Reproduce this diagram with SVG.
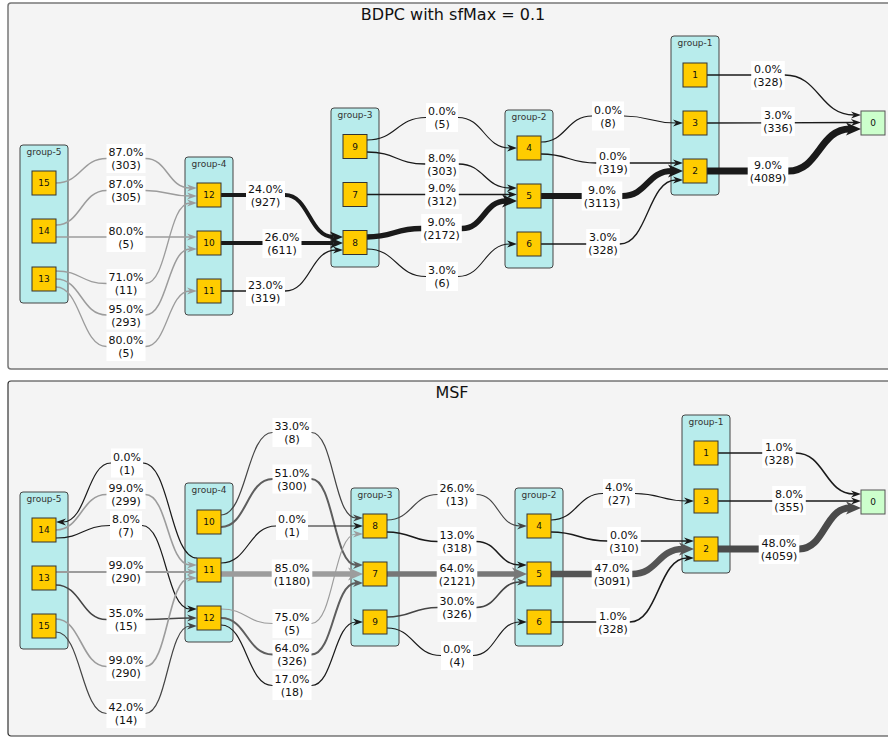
<svg xmlns="http://www.w3.org/2000/svg" width="888" height="737" viewBox="0 0 888 737">
<style>
text{font-family:"DejaVu Sans","Liberation Sans",sans-serif;fill:#111}
.title{font-size:16px;text-anchor:middle}
.gl{font-size:9px;text-anchor:middle;fill:#333}
.nt{font-size:9px;text-anchor:middle}
.cl{fill:#b8ecec;stroke:#444;stroke-width:1}
.nd{fill:#ffcc00;stroke:#333;stroke-width:1}
.n0{fill:#ccffcc;stroke:#555;stroke-width:1}
.e{fill:none}
.k{stroke:#1a1a1a}
.g{stroke:#9c9c9c}
.d{stroke:#444}
.m{stroke:#5e5e5e}
.lb rect{fill:#fff}
.lb text{font-size:11px;text-anchor:middle}
</style>
<defs>
<marker id="ak" markerUnits="userSpaceOnUse" orient="auto" refX="3" refY="0" markerWidth="10" markerHeight="8" overflow="visible"><path d="M0,-3.5 L10,0 L0,3.5 L3,0 z" fill="#1a1a1a"/></marker>
<marker id="ag" markerUnits="userSpaceOnUse" orient="auto" refX="3" refY="0" markerWidth="10" markerHeight="8" overflow="visible"><path d="M0,-3.5 L10,0 L0,3.5 L3,0 z" fill="#9c9c9c"/></marker>
<marker id="ad" markerUnits="userSpaceOnUse" orient="auto" refX="3" refY="0" markerWidth="10" markerHeight="8" overflow="visible"><path d="M0,-3.5 L10,0 L0,3.5 L3,0 z" fill="#444"/></marker>
<marker id="am" markerUnits="userSpaceOnUse" orient="auto" refX="3" refY="0" markerWidth="10" markerHeight="8" overflow="visible"><path d="M0,-4 L10,0 L0,4 L3,0 z" fill="#5e5e5e"/></marker>
<marker id="Nk" markerUnits="userSpaceOnUse" orient="auto" refX="3.5" refY="0" markerWidth="13" markerHeight="11" overflow="visible"><path d="M0,-5.5 L13,0 L0,5.5 L3.5,0 z" fill="#1a1a1a"/></marker>
<marker id="Bk" markerUnits="userSpaceOnUse" orient="auto" refX="4" refY="0" markerWidth="15" markerHeight="13" overflow="visible"><path d="M0,-6.5 L15,0 L0,6.5 L4,0 z" fill="#1a1a1a"/></marker>
<marker id="Bg" markerUnits="userSpaceOnUse" orient="auto" refX="4" refY="0" markerWidth="15" markerHeight="13" overflow="visible"><path d="M0,-6.5 L15,0 L0,6.5 L4,0 z" fill="#9c9c9c"/></marker>
<marker id="B7" markerUnits="userSpaceOnUse" orient="auto" refX="4" refY="0" markerWidth="15" markerHeight="13" overflow="visible"><path d="M0,-6.5 L15,0 L0,6.5 L4,0 z" fill="#777"/></marker>
<marker id="B5" markerUnits="userSpaceOnUse" orient="auto" refX="4" refY="0" markerWidth="15" markerHeight="13" overflow="visible"><path d="M0,-6.5 L15,0 L0,6.5 L4,0 z" fill="#555"/></marker>
<marker id="B4" markerUnits="userSpaceOnUse" orient="auto" refX="4" refY="0" markerWidth="15" markerHeight="13" overflow="visible"><path d="M0,-6.5 L15,0 L0,6.5 L4,0 z" fill="#4a4a4a"/></marker>
</defs>
<rect x="0" y="0" width="888" height="737" fill="#fff"/>

<g id="panel-bdpc">
<rect x="8" y="3" width="900" height="366" rx="3" fill="#f4f4f4" stroke="#777" stroke-width="1.5"/>
<text class="title" x="453" y="20">BDPC with sfMax = 0.1</text>
</g>
<g id="panel-msf">
<rect x="8" y="381" width="900" height="355" rx="3" fill="#f4f4f4" stroke="#333" stroke-width="1.2"/>
<text class="title" x="452" y="398">MSF</text>
</g>

<g id="clusters">
<g id="t-group-5"><rect class="cl" x="20" y="145" width="48" height="158" rx="3"/><text class="gl" x="44" y="155">group-5</text></g>
<g id="t-group-4"><rect class="cl" x="185" y="157" width="48" height="158" rx="3"/><text class="gl" x="209" y="167">group-4</text></g>
<g id="t-group-3"><rect class="cl" x="331" y="108" width="48" height="159" rx="3"/><text class="gl" x="355" y="118">group-3</text></g>
<g id="t-group-2"><rect class="cl" x="505" y="110" width="48" height="158" rx="3"/><text class="gl" x="529" y="120">group-2</text></g>
<g id="t-group-1"><rect class="cl" x="671" y="36" width="48" height="159" rx="3"/><text class="gl" x="695" y="46">group-1</text></g>
<g id="b-group-5"><rect class="cl" x="20" y="492" width="48" height="157" rx="3"/><text class="gl" x="44" y="502">group-5</text></g>
<g id="b-group-4"><rect class="cl" x="185" y="483" width="48" height="159" rx="3"/><text class="gl" x="209" y="493">group-4</text></g>
<g id="b-group-3"><rect class="cl" x="351" y="488" width="48" height="158" rx="3"/><text class="gl" x="375" y="498">group-3</text></g>
<g id="b-group-2"><rect class="cl" x="515" y="488" width="48" height="158" rx="3"/><text class="gl" x="539" y="498">group-2</text></g>
<g id="b-group-1"><rect class="cl" x="682" y="415" width="48" height="158" rx="3"/><text class="gl" x="706" y="425">group-1</text></g>
</g>

<g id="connectors">
<path class="e g" stroke-width="1.5" marker-end="url(#ag)" d="M56,183 C81.25,183 81.25,158.5 106.5,158.5 L145.5,158.5 C167.75,158.5 167.75,188 190,188"/>
<path class="e g" stroke-width="1.5" marker-end="url(#ag)" d="M56,225 C81.25,225 81.25,190.5 106.5,190.5 L145.5,190.5 C167.75,190.5 167.75,196 190,196"/>
<path class="e g" stroke-width="1.3" marker-end="url(#ag)" d="M56,237 L190,237"/>
<path class="e g" stroke-width="1.3" marker-end="url(#ag)" d="M56,271 C81.25,271 81.25,283.5 106.5,283.5 L145.5,283.5 C167.75,283.5 167.75,203 190,203"/>
<path class="e g" stroke-width="1.5" marker-end="url(#ag)" d="M56,279 C81.25,279 81.25,315 106.5,315 L145.5,315 C167.75,315 167.75,249 190,249"/>
<path class="e g" stroke-width="1.3" marker-end="url(#ag)" d="M56,287 C81.25,287 81.25,346.5 106.5,346.5 L145.5,346.5 C167.75,346.5 167.75,291 190,291"/>
<path class="e k" stroke-width="4" marker-end="url(#Nk)" d="M221,195 L285,195 C309.25,195 309.25,237 333.5,237"/>
<path class="e k" stroke-width="4" marker-end="url(#Nk)" d="M221,243 L333.5,243"/>
<path class="e k" stroke-width="1.3" marker-end="url(#ak)" d="M221,291 L285,291 C310.5,291 310.5,250 336,250"/>
<path class="e k" stroke-width="1.1" marker-end="url(#ak)" d="M367,140 C396.5,140 396.5,117.5 426,117.5 L458,117.5 C484,117.5 484,148 510,148"/>
<path class="e k" stroke-width="1.3" marker-end="url(#ak)" d="M367,152 C396.1,152 396.1,164 425.2,164 L458.8,164 C484.4,164 484.4,188 510,188"/>
<path class="e k" stroke-width="1.3" marker-end="url(#ak)" d="M367,194.5 L510,194.5"/>
<path class="e k" stroke-width="5.5" marker-end="url(#Bk)" d="M367,237 C394.1,237 394.1,228.5 421.2,228.5 L461.8,228.5 C483.9,228.5 483.9,201 506,201"/>
<path class="e k" stroke-width="1.1" marker-end="url(#ak)" d="M367,249 C396.5,249 396.5,276.5 426,276.5 L458,276.5 C484,276.5 484,244 510,244"/>
<path class="e k" stroke-width="1.2" marker-end="url(#ak)" d="M541,142 C566.5,142 566.5,116 592,116 L624,116 C650,116 650,123 676,123"/>
<path class="e k" stroke-width="1.3" marker-end="url(#ak)" d="M541,154 C568.6,154 568.6,163 596.2,163 L676,163"/>
<path class="e k" stroke-width="6" marker-end="url(#Bk)" d="M541,196 L622.3,196 C647.2,196 647.2,171 672,171"/>
<path class="e k" stroke-width="1.3" marker-end="url(#ak)" d="M541,244 L619.8,244 C647.9,244 647.9,180 676,180"/>
<path class="e k" stroke-width="1.3" marker-end="url(#ak)" d="M707,75 L784.8,75 C819.4,75 819.4,115 854,115"/>
<path class="e k" stroke-width="1.3" marker-end="url(#ak)" d="M707,123 L854,122.5"/>
<path class="e k" stroke-width="7" marker-end="url(#Bk)" d="M707,171 L788.3,171 C819.2,171 819.2,129 850,129"/>

<path class="e k" stroke-width="1.2" marker-end="url(#ak)" d="M197,558 C170,558 170,463 143,463 L111,463 C87,463 87,522 63,522"/>
<path class="e g" stroke-width="1.6" marker-end="url(#ag)" d="M56,530 C81.25,530 81.25,494.5 106.5,494.5 L145.5,494.5 C167.75,494.5 167.75,565 190,565"/>
<path class="e k" stroke-width="1.2" marker-end="url(#ak)" d="M56,538 C83,538 83,525.5 110,525.5 L142,525.5 C166,525.5 166,609 190,609"/>
<path class="e g" stroke-width="2" marker-end="url(#ag)" d="M56,572 L190,572"/>
<path class="e d" stroke-width="1.5" marker-end="url(#ad)" d="M56,585 C81.25,585 81.25,619.5 106.5,619.5 L145.5,619.5 C167.75,619.5 167.75,618 190,618"/>
<path class="e g" stroke-width="1.6" marker-end="url(#ag)" d="M56,619 C81.25,619 81.25,666.5 106.5,666.5 L145.5,666.5 C167.75,666.5 167.75,578 190,578"/>
<path class="e d" stroke-width="1.2" marker-end="url(#ad)" d="M56,632 C81.25,632 81.25,713.5 106.5,713.5 L145.5,713.5 C167.75,713.5 167.75,626 190,626"/>
<path class="e d" stroke-width="1.2" marker-end="url(#ad)" d="M221,515 C246.75,515 246.75,432.5 272.5,432.5 L311.5,432.5 C333.75,432.5 333.75,518 356,518"/>
<path class="e m" stroke-width="2" marker-end="url(#am)" d="M221,527 C246.75,527 246.75,479 272.5,479 L311.5,479 C333.75,479 333.75,565 356,565"/>
<path class="e k" stroke-width="1.2" marker-end="url(#ak)" d="M221,563 C248.5,563 248.5,526 276,526 L356,526"/>
<path class="e g" stroke-width="5.5" marker-end="url(#Bg)" d="M221,574 L352,574"/>
<path class="e g" stroke-width="1.1" marker-end="url(#ag)" d="M221,609 C246.75,609 246.75,623.5 272.5,623.5 L311.5,623.5 C333.75,623.5 333.75,534 356,534"/>
<path class="e m" stroke-width="2" marker-end="url(#am)" d="M221,618 C246.75,618 246.75,654.5 272.5,654.5 L311.5,654.5 C333.75,654.5 333.75,583 356,583"/>
<path class="e k" stroke-width="1.2" marker-end="url(#ak)" d="M221,625 C246.75,625 246.75,685.5 272.5,685.5 L311.5,685.5 C333.75,685.5 333.75,622 356,622"/>
<path class="e d" stroke-width="1.2" marker-end="url(#ad)" d="M387,520 C412.25,520 412.25,494.5 437.5,494.5 L476.5,494.5 C498.25,494.5 498.25,526 520,526"/>
<path class="e k" stroke-width="1.6" marker-end="url(#ak)" d="M387,532 C412.25,532 412.25,541.5 437.5,541.5 L476.5,541.5 C498.25,541.5 498.25,565 520,565"/>
<path class="e" stroke="#777" stroke-width="5.5" marker-end="url(#B7)" d="M387,574 L516,574"/>
<path class="e d" stroke-width="1.6" marker-end="url(#ad)" d="M387,617 C412.25,617 412.25,607.5 437.5,607.5 L476.5,607.5 C498.25,607.5 498.25,582 520,582"/>
<path class="e k" stroke-width="1.1" marker-end="url(#ak)" d="M387,628 C414,628 414,655.5 441,655.5 L473,655.5 C496.5,655.5 496.5,622 520,622"/>
<path class="e k" stroke-width="1.2" marker-end="url(#ak)" d="M551,520 C577,520 577,493.5 603,493.5 L635,493.5 C661,493.5 661,501 687,501"/>
<path class="e k" stroke-width="1.6" marker-end="url(#ak)" d="M551,532 C579.1,532 579.1,541 607.2,541 L687,541"/>
<path class="e" stroke="#555" stroke-width="6.5" marker-end="url(#B5)" d="M551,574 L632.3,574 C657.7,574 657.7,549 683,549"/>
<path class="e k" stroke-width="1.6" marker-end="url(#ak)" d="M551,622 L629.8,622 C658.4,622 658.4,558 687,558"/>
<path class="e k" stroke-width="1.6" marker-end="url(#ak)" d="M718,453 L795.8,453 C824.9,453 824.9,494 854,494"/>
<path class="e k" stroke-width="1.6" marker-end="url(#ak)" d="M718,501 L854,501"/>
<path class="e" stroke="#4a4a4a" stroke-width="7" marker-end="url(#B4)" d="M718,549 L799.3,549 C824.7,549 824.7,508 850,508"/>
</g>

<g id="edge-labels">
<g class="lb"><rect x="106.5" y="144" width="39" height="29"/><text x="126" y="156">87.0%<tspan x="126" dy="13">(303)</tspan></text></g>
<g class="lb"><rect x="106.5" y="176" width="39" height="29"/><text x="126" y="188">87.0%<tspan x="126" dy="13">(305)</tspan></text></g>
<g class="lb"><rect x="106.5" y="223" width="39" height="29"/><text x="126" y="235">80.0%<tspan x="126" dy="13">(5)</tspan></text></g>
<g class="lb"><rect x="106.5" y="269" width="39" height="29"/><text x="126" y="281">71.0%<tspan x="126" dy="13">(11)</tspan></text></g>
<g class="lb"><rect x="106.5" y="300.5" width="39" height="29"/><text x="126" y="312.5">95.0%<tspan x="126" dy="13">(293)</tspan></text></g>
<g class="lb"><rect x="106.5" y="332" width="39" height="29"/><text x="126" y="344">80.0%<tspan x="126" dy="13">(5)</tspan></text></g>
<g class="lb"><rect x="246" y="181" width="39" height="29"/><text x="265.5" y="193">24.0%<tspan x="265.5" dy="13">(927)</tspan></text></g>
<g class="lb"><rect x="262.5" y="229" width="39" height="29"/><text x="282" y="241">26.0%<tspan x="282" dy="13">(611)</tspan></text></g>
<g class="lb"><rect x="246" y="277" width="39" height="29"/><text x="265.5" y="289">23.0%<tspan x="265.5" dy="13">(319)</tspan></text></g>
<g class="lb"><rect x="426" y="103" width="32" height="29"/><text x="442" y="115">0.0%<tspan x="442" dy="13">(5)</tspan></text></g>
<g class="lb"><rect x="425.2" y="149.5" width="33.6" height="29"/><text x="442" y="161.5">8.0%<tspan x="442" dy="13">(303)</tspan></text></g>
<g class="lb"><rect x="425.2" y="180" width="33.6" height="29"/><text x="442" y="192">9.0%<tspan x="442" dy="13">(312)</tspan></text></g>
<g class="lb"><rect x="421.2" y="214" width="40.6" height="29"/><text x="441.5" y="226">9.0%<tspan x="441.5" dy="13">(2172)</tspan></text></g>
<g class="lb"><rect x="426" y="262" width="32" height="29"/><text x="442" y="274">3.0%<tspan x="442" dy="13">(6)</tspan></text></g>
<g class="lb"><rect x="592" y="101.5" width="32" height="29"/><text x="608" y="113.5">0.0%<tspan x="608" dy="13">(8)</tspan></text></g>
<g class="lb"><rect x="596.2" y="148" width="33.6" height="29"/><text x="613" y="160">0.0%<tspan x="613" dy="13">(319)</tspan></text></g>
<g class="lb"><rect x="581.7" y="181.5" width="40.6" height="29"/><text x="602" y="193.5">9.0%<tspan x="602" dy="13">(3113)</tspan></text></g>
<g class="lb"><rect x="586.2" y="229" width="33.6" height="29"/><text x="603" y="241">3.0%<tspan x="603" dy="13">(328)</tspan></text></g>
<g class="lb"><rect x="751.2" y="61" width="33.6" height="29"/><text x="768" y="73">0.0%<tspan x="768" dy="13">(328)</tspan></text></g>
<g class="lb"><rect x="761.2" y="107" width="33.6" height="29"/><text x="778" y="119">3.0%<tspan x="778" dy="13">(336)</tspan></text></g>
<g class="lb"><rect x="747.7" y="157" width="40.6" height="29"/><text x="768" y="169">9.0%<tspan x="768" dy="13">(4089)</tspan></text></g>

<g class="lb"><rect x="111" y="448.5" width="32" height="29"/><text x="127" y="460.5">0.0%<tspan x="127" dy="13">(1)</tspan></text></g>
<g class="lb"><rect x="106.5" y="480" width="39" height="29"/><text x="126" y="492">99.0%<tspan x="126" dy="13">(299)</tspan></text></g>
<g class="lb"><rect x="110" y="511" width="32" height="29"/><text x="126" y="523">8.0%<tspan x="126" dy="13">(7)</tspan></text></g>
<g class="lb"><rect x="106.5" y="557" width="39" height="29"/><text x="126" y="569">99.0%<tspan x="126" dy="13">(290)</tspan></text></g>
<g class="lb"><rect x="106.5" y="605" width="39" height="29"/><text x="126" y="617">35.0%<tspan x="126" dy="13">(15)</tspan></text></g>
<g class="lb"><rect x="106.5" y="652" width="39" height="29"/><text x="126" y="664">99.0%<tspan x="126" dy="13">(290)</tspan></text></g>
<g class="lb"><rect x="106.5" y="699" width="39" height="29"/><text x="126" y="711">42.0%<tspan x="126" dy="13">(14)</tspan></text></g>
<g class="lb"><rect x="272.5" y="418" width="39" height="29"/><text x="292" y="430">33.0%<tspan x="292" dy="13">(8)</tspan></text></g>
<g class="lb"><rect x="272.5" y="464.5" width="39" height="29"/><text x="292" y="476.5">51.0%<tspan x="292" dy="13">(300)</tspan></text></g>
<g class="lb"><rect x="276" y="511" width="32" height="29"/><text x="292" y="523">0.0%<tspan x="292" dy="13">(1)</tspan></text></g>
<g class="lb"><rect x="271.7" y="559.5" width="40.6" height="29"/><text x="292" y="571.5">85.0%<tspan x="292" dy="13">(1180)</tspan></text></g>
<g class="lb"><rect x="272.5" y="609" width="39" height="29"/><text x="292" y="621">75.0%<tspan x="292" dy="13">(5)</tspan></text></g>
<g class="lb"><rect x="272.5" y="640" width="39" height="29"/><text x="292" y="652">64.0%<tspan x="292" dy="13">(326)</tspan></text></g>
<g class="lb"><rect x="272.5" y="671" width="39" height="29"/><text x="292" y="683">17.0%<tspan x="292" dy="13">(18)</tspan></text></g>
<g class="lb"><rect x="437.5" y="480" width="39" height="29"/><text x="457" y="492">26.0%<tspan x="457" dy="13">(13)</tspan></text></g>
<g class="lb"><rect x="437.5" y="527" width="39" height="29"/><text x="457" y="539">13.0%<tspan x="457" dy="13">(318)</tspan></text></g>
<g class="lb"><rect x="436.7" y="560" width="40.6" height="29"/><text x="457" y="572">64.0%<tspan x="457" dy="13">(2121)</tspan></text></g>
<g class="lb"><rect x="437.5" y="593" width="39" height="29"/><text x="457" y="605">30.0%<tspan x="457" dy="13">(326)</tspan></text></g>
<g class="lb"><rect x="441" y="641" width="32" height="29"/><text x="457" y="653">0.0%<tspan x="457" dy="13">(4)</tspan></text></g>
<g class="lb"><rect x="603" y="479" width="32" height="29"/><text x="619" y="491">4.0%<tspan x="619" dy="13">(27)</tspan></text></g>
<g class="lb"><rect x="607.2" y="527" width="33.6" height="29"/><text x="624" y="539">0.0%<tspan x="624" dy="13">(310)</tspan></text></g>
<g class="lb"><rect x="591.7" y="560" width="40.6" height="29"/><text x="612" y="572">47.0%<tspan x="612" dy="13">(3091)</tspan></text></g>
<g class="lb"><rect x="596.2" y="608" width="33.6" height="29"/><text x="613" y="620">1.0%<tspan x="613" dy="13">(328)</tspan></text></g>
<g class="lb"><rect x="762.2" y="439" width="33.6" height="29"/><text x="779" y="451">1.0%<tspan x="779" dy="13">(328)</tspan></text></g>
<g class="lb"><rect x="772.2" y="486" width="33.6" height="29"/><text x="789" y="498">8.0%<tspan x="789" dy="13">(355)</tspan></text></g>
<g class="lb"><rect x="758.7" y="535" width="40.6" height="29"/><text x="779" y="547">48.0%<tspan x="779" dy="13">(4059)</tspan></text></g>
</g>

<g id="nodes">
<g id="t-n15"><rect class="nd" x="32" y="171" width="24" height="24"/><text class="nt" x="44" y="186.3">15</text></g>
<g id="t-n14"><rect class="nd" x="32" y="219" width="24" height="24"/><text class="nt" x="44" y="234.3">14</text></g>
<g id="t-n13"><rect class="nd" x="32" y="267" width="24" height="24"/><text class="nt" x="44" y="282.3">13</text></g>
<g id="t-n12"><rect class="nd" x="197" y="183" width="24" height="24"/><text class="nt" x="209" y="198.3">12</text></g>
<g id="t-n10"><rect class="nd" x="197" y="231" width="24" height="24"/><text class="nt" x="209" y="246.3">10</text></g>
<g id="t-n11"><rect class="nd" x="197" y="279" width="24" height="24"/><text class="nt" x="209" y="294.3">11</text></g>
<g id="t-n9"><rect class="nd" x="343" y="134.5" width="24" height="24"/><text class="nt" x="355" y="149.8">9</text></g>
<g id="t-n7"><rect class="nd" x="343" y="182.5" width="24" height="24"/><text class="nt" x="355" y="197.8">7</text></g>
<g id="t-n8"><rect class="nd" x="343" y="230.5" width="24" height="24"/><text class="nt" x="355" y="245.8">8</text></g>
<g id="t-n4"><rect class="nd" x="517" y="136" width="24" height="24"/><text class="nt" x="529" y="151.3">4</text></g>
<g id="t-n5"><rect class="nd" x="517" y="184" width="24" height="24"/><text class="nt" x="529" y="199.3">5</text></g>
<g id="t-n6"><rect class="nd" x="517" y="232" width="24" height="24"/><text class="nt" x="529" y="247.3">6</text></g>
<g id="t-n1"><rect class="nd" x="683" y="63" width="24" height="24"/><text class="nt" x="695" y="78.3">1</text></g>
<g id="t-n3"><rect class="nd" x="683" y="111" width="24" height="24"/><text class="nt" x="695" y="126.3">3</text></g>
<g id="t-n2"><rect class="nd" x="683" y="159" width="24" height="24"/><text class="nt" x="695" y="174.3">2</text></g>
<g id="t-n0"><rect class="n0" x="861" y="111" width="24" height="24"/><text class="nt" x="873" y="126.3">0</text></g>

<g id="b-n14"><rect class="nd" x="32" y="518" width="24" height="24"/><text class="nt" x="44" y="533.3">14</text></g>
<g id="b-n13"><rect class="nd" x="32" y="566" width="24" height="24"/><text class="nt" x="44" y="581.3">13</text></g>
<g id="b-n15"><rect class="nd" x="32" y="614" width="24" height="24"/><text class="nt" x="44" y="629.3">15</text></g>
<g id="b-n10"><rect class="nd" x="197" y="510" width="24" height="24"/><text class="nt" x="209" y="525.3">10</text></g>
<g id="b-n11"><rect class="nd" x="197" y="558" width="24" height="24"/><text class="nt" x="209" y="573.3">11</text></g>
<g id="b-n12"><rect class="nd" x="197" y="606" width="24" height="24"/><text class="nt" x="209" y="621.3">12</text></g>
<g id="b-n8"><rect class="nd" x="363" y="514" width="24" height="24"/><text class="nt" x="375" y="529.3">8</text></g>
<g id="b-n7"><rect class="nd" x="363" y="562" width="24" height="24"/><text class="nt" x="375" y="577.3">7</text></g>
<g id="b-n9"><rect class="nd" x="363" y="610" width="24" height="24"/><text class="nt" x="375" y="625.3">9</text></g>
<g id="b-n4"><rect class="nd" x="527" y="514" width="24" height="24"/><text class="nt" x="539" y="529.3">4</text></g>
<g id="b-n5"><rect class="nd" x="527" y="562" width="24" height="24"/><text class="nt" x="539" y="577.3">5</text></g>
<g id="b-n6"><rect class="nd" x="527" y="610" width="24" height="24"/><text class="nt" x="539" y="625.3">6</text></g>
<g id="b-n1"><rect class="nd" x="694" y="441" width="24" height="24"/><text class="nt" x="706" y="456.3">1</text></g>
<g id="b-n3"><rect class="nd" x="694" y="489" width="24" height="24"/><text class="nt" x="706" y="504.3">3</text></g>
<g id="b-n2"><rect class="nd" x="694" y="537" width="24" height="24"/><text class="nt" x="706" y="552.3">2</text></g>
<g id="b-n0"><rect class="n0" x="861" y="490" width="24" height="24"/><text class="nt" x="873" y="505.3">0</text></g>
</g>
</svg>
